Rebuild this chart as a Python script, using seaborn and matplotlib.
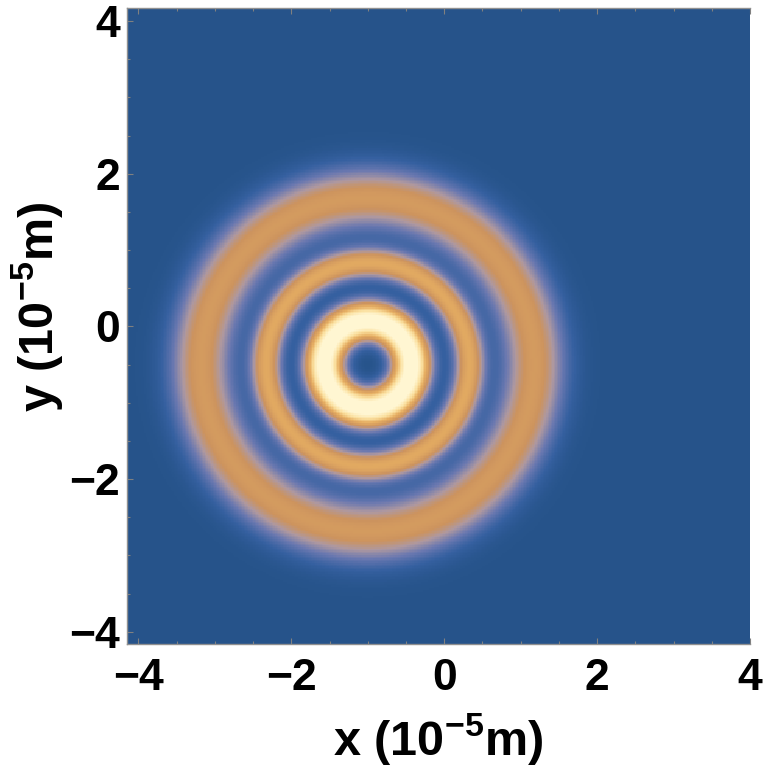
import numpy as np
import matplotlib
matplotlib.use('Agg')
import matplotlib.pyplot as plt
from matplotlib.colors import LinearSegmentedColormap
import seaborn as sns

# --- ring pattern (units of 1e-5 m) ---
beam_center = (-1.0, -0.5)
ring_radius = [0.57, 1.33, 2.18]
ring_sigma = [0.17, 0.14, 0.28]
ring_peak = [1.12, 0.56, 0.47]

# plot window and ticks
x_range = (-4.15, 4.0)
y_range = (-4.16, 4.17)
major_ticks = [-4, -2, 0, 2, 4]
minor_ticks = [-3.5, -3, -2.5, -1.5, -1, -0.5, 0.5, 1, 1.5, 2.5, 3, 3.5]

# Mathematica-like density gradient
grad_pos = [0.0, 0.08, 0.20, 0.32, 0.42, 0.60, 0.80, 1.0]
grad_col = ['#26538a', '#3560a0', '#6a78b0', '#ae98a0', '#cc935e',
            '#e6ae62', '#fadf9e', '#fff6d2']
cmap = LinearSegmentedColormap.from_list('m10', list(zip(grad_pos, grad_col)))

# --- build the intensity grid ---
n = 400
dx = (x_range[1] - x_range[0]) / n
dy = (y_range[1] - y_range[0]) / n
xs = x_range[0] + (np.arange(n) + 0.5) * dx
ys = y_range[1] - (np.arange(n) + 0.5) * dy   # top row first
X, Y = np.meshgrid(xs, ys)
R = np.hypot(X - beam_center[0], Y - beam_center[1])
Z = np.zeros_like(R)
for r0, s, a in zip(ring_radius, ring_sigma, ring_peak):
    Z += a * np.exp(-(R - r0) ** 2 / (2 * s ** 2))

# --- figure ---
plt.rcParams['font.family'] = ['Liberation Sans', 'DejaVu Sans']
plt.rcParams['font.weight'] = 'bold'
plt.rcParams['mathtext.fontset'] = 'custom'
plt.rcParams['mathtext.rm'] = 'Liberation Sans:bold'
plt.rcParams['mathtext.bf'] = 'Liberation Sans:bold'

fig = plt.figure(figsize=(7.64, 7.71), dpi=100)
ax = fig.add_axes([127 / 764, 1 - 644 / 771, 623 / 764, 636 / 771])
sns.heatmap(Z, cmap=cmap, vmin=0, vmax=1, cbar=False, ax=ax,
            xticklabels=False, yticklabels=False, rasterized=True)

def to_x(v):
    return (np.asarray(v) - x_range[0]) / dx

def to_y(v):
    return (y_range[1] - np.asarray(v)) / dy

ax.set_xticks(to_x(major_ticks))
ax.set_xticklabels([f'{t}'.replace('-', '\u2212') for t in major_ticks])
ax.set_xticks(to_x(minor_ticks), minor=True)
ax.set_yticks(to_y(major_ticks))
ax.set_yticklabels([f'{t}'.replace('-', '\u2212') for t in major_ticks], rotation=0)
ax.set_yticks(to_y(minor_ticks), minor=True)

ax.tick_params(which='both', direction='in', color='#808080', width=0.8,
               top=True, bottom=True, left=True, right=False,
               labelsize=32, labelcolor='black')
ax.tick_params(which='major', length=4)
ax.tick_params(which='minor', length=2.2)
ax.tick_params(axis='x', pad=10)
ax.tick_params(axis='y', pad=5)
for lab in ax.get_xticklabels() + ax.get_yticklabels():
    lab.set_fontweight('bold')

for side in ['top', 'bottom', 'left']:
    ax.spines[side].set_visible(True)
    ax.spines[side].set_color('#909090')
    ax.spines[side].set_linewidth(1.0)
ax.spines['right'].set_visible(False)

ax.set_xlabel(r'x (10$^{\mathbf{-5}}$m)', fontsize=35, fontweight='bold')
ax.set_ylabel(r'y (10$^{\mathbf{-5}}$m)', fontsize=35, fontweight='bold')
ax.xaxis.set_label_coords(0.5, -0.105)
ax.yaxis.set_label_coords(-0.10, 0.531)

fig.savefig('out.png', dpi=100)
